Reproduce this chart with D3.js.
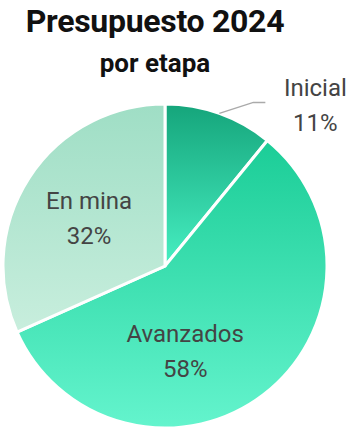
<!DOCTYPE html>
<html>
<head>
<meta charset="utf-8">
<script src="https://cdn.jsdelivr.net/npm/d3@7"></script>
<style>
  html, body { margin: 0; padding: 0; background: #ffffff; }
  svg { display: block; font-family: Roboto, "Noto Sans", sans-serif; }
</style>
</head>
<body>
<svg id="chart" width="362" height="429"></svg>
<script>
// Budget split by project stage
const stages = ["Inicial", "Avanzados", "En mina"];
const shares = [11, 58, 32];
const topColors = ["#15a57b", "#1bcd97", "#9fdec5"];
const bottomColors = ["#47efc2", "#64f4cd", "#c8eedd"];

const width = 362, height = 429;
const cx = 165, cy = 266, radius = 162;

const svg = d3.select("#chart");
const defs = svg.append("defs");

// Vertical gradient per slice
stages.forEach((s, i) => {
  const g = defs.append("linearGradient")
    .attr("id", "grad" + i)
    .attr("x1", 0).attr("y1", 0).attr("x2", 0).attr("y2", 1);
  g.append("stop").attr("offset", "0%").attr("stop-color", topColors[i]);
  g.append("stop").attr("offset", "100%").attr("stop-color", bottomColors[i]);
});

const data = stages.map((s, i) => ({ stage: s, value: shares[i], i }));
const pie = d3.pie().sort(null).value(d => d.value);
const arcs = pie(data);
const arc = d3.arc().innerRadius(0).outerRadius(radius);

const g = svg.append("g").attr("transform", `translate(${cx},${cy})`);

g.selectAll("path.slice")
  .data(arcs)
  .join("path")
  .attr("class", "slice")
  .attr("d", arc)
  .attr("fill", d => `url(#grad${d.data.i})`)
  .attr("stroke", "#ffffff")
  .attr("stroke-width", 3)
  .attr("stroke-linejoin", "miter");

// Title
svg.append("text")
  .attr("x", 155).attr("y", 32)
  .attr("text-anchor", "middle")
  .attr("font-weight", 700)
  .attr("font-size", 32)
  .attr("letter-spacing", -0.3)
  .attr("fill", "#111111")
  .text("Presupuesto 2024");

svg.append("text")
  .attr("x", 155).attr("y", 72)
  .attr("text-anchor", "middle")
  .attr("font-weight", 700)
  .attr("font-size", 26)
  .attr("fill", "#111111")
  .text("por etapa");

// Label placement: inside labels offset from the arc centroid, the small slice outside
const labelOffsets = [null, [-29, 12], [-8, -13]];
const labelColor = "#444444";

arcs.forEach((a, k) => {
  const lab = g.append("g");
  let x, y;
  if (labelOffsets[k]) {
    const c = arc.centroid(a);
    x = c[0] + labelOffsets[k][0];
    y = c[1] + labelOffsets[k][1];
  } else {
    // leader line from the slice edge at its mid-angle
    const mid = (a.startAngle + a.endAngle) / 2;
    const p0 = [Math.sin(mid) * radius, -Math.cos(mid) * radius];
    const p1 = [p0[0] + 34, p0[1] - 11];
    const p2 = [p1[0] + 12, p1[1]];
    g.append("polyline")
      .attr("points", [p0, p1, p2].map(p => p.join(",")).join(" "))
      .attr("fill", "none")
      .attr("stroke", "#aaaaaa")
      .attr("stroke-width", 1.5);
    x = p2[0] + 50;
    y = p2[1] - 6;
  }
  lab.append("text")
    .attr("x", x).attr("y", y)
    .attr("text-anchor", "middle")
    .attr("font-size", 24)
    .attr("fill", labelColor)
    .text(a.data.stage);
  lab.append("text")
    .attr("x", x).attr("y", y + 35)
    .attr("text-anchor", "middle")
    .attr("font-size", 24)
    .attr("fill", labelColor)
    .text(a.data.value + "%");
});
</script>
</body>
</html>
